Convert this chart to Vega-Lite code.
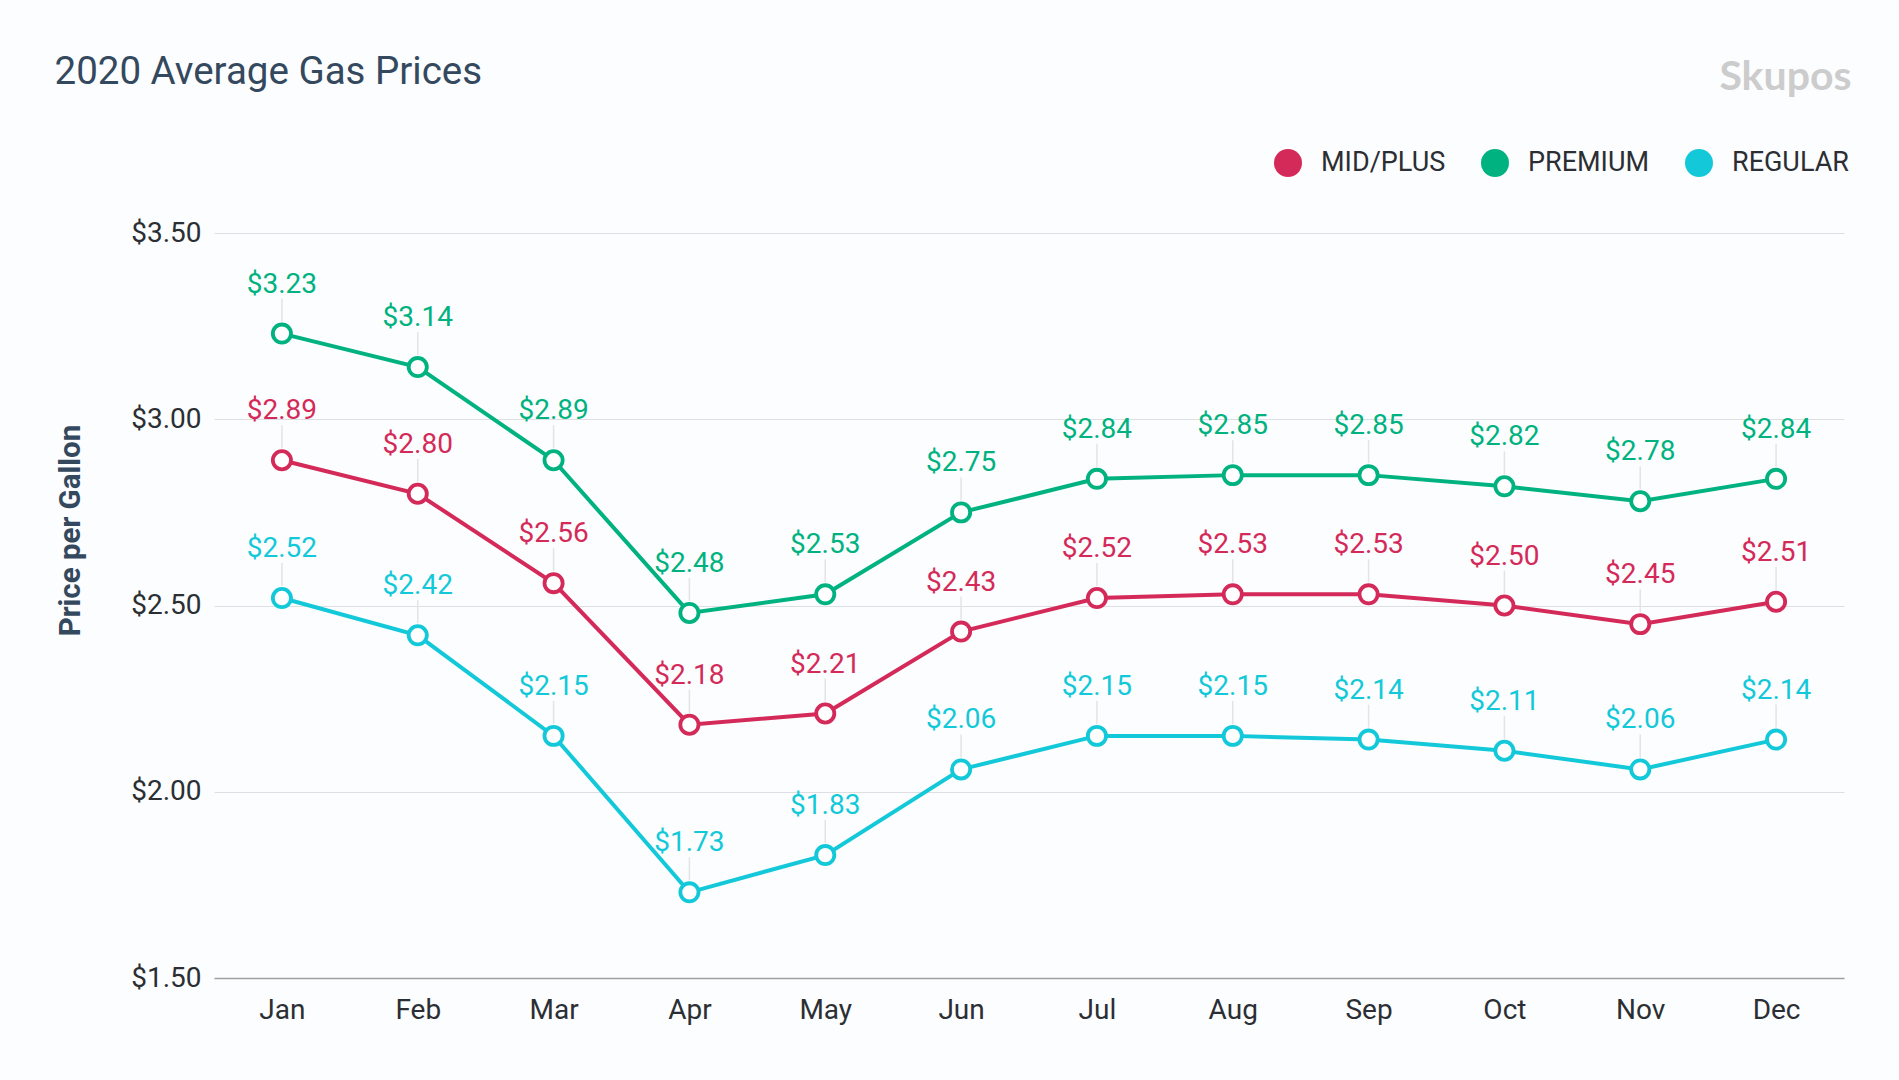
{
  "$schema": "https://vega.github.io/schema/vega-lite/v6.json",
  "width": 1630,
  "height": 745,
  "autosize": {"type": "none"},
  "padding": {"left": 214, "top": 233, "right": 55, "bottom": 102},
  "background": "#fcfdfe",
  "config": {
    "view": {"stroke": null},
    "font": "Roboto"
  },
  "data": {
    "values": [
      {"month": "Jan", "type": "MID/PLUS", "price": 2.89},
      {"month": "Feb", "type": "MID/PLUS", "price": 2.80},
      {"month": "Mar", "type": "MID/PLUS", "price": 2.56},
      {"month": "Apr", "type": "MID/PLUS", "price": 2.18},
      {"month": "May", "type": "MID/PLUS", "price": 2.21},
      {"month": "Jun", "type": "MID/PLUS", "price": 2.43},
      {"month": "Jul", "type": "MID/PLUS", "price": 2.52},
      {"month": "Aug", "type": "MID/PLUS", "price": 2.53},
      {"month": "Sep", "type": "MID/PLUS", "price": 2.53},
      {"month": "Oct", "type": "MID/PLUS", "price": 2.50},
      {"month": "Nov", "type": "MID/PLUS", "price": 2.45},
      {"month": "Dec", "type": "MID/PLUS", "price": 2.51},
      {"month": "Jan", "type": "PREMIUM", "price": 3.23},
      {"month": "Feb", "type": "PREMIUM", "price": 3.14},
      {"month": "Mar", "type": "PREMIUM", "price": 2.89},
      {"month": "Apr", "type": "PREMIUM", "price": 2.48},
      {"month": "May", "type": "PREMIUM", "price": 2.53},
      {"month": "Jun", "type": "PREMIUM", "price": 2.75},
      {"month": "Jul", "type": "PREMIUM", "price": 2.84},
      {"month": "Aug", "type": "PREMIUM", "price": 2.85},
      {"month": "Sep", "type": "PREMIUM", "price": 2.85},
      {"month": "Oct", "type": "PREMIUM", "price": 2.82},
      {"month": "Nov", "type": "PREMIUM", "price": 2.78},
      {"month": "Dec", "type": "PREMIUM", "price": 2.84},
      {"month": "Jan", "type": "REGULAR", "price": 2.52},
      {"month": "Feb", "type": "REGULAR", "price": 2.42},
      {"month": "Mar", "type": "REGULAR", "price": 2.15},
      {"month": "Apr", "type": "REGULAR", "price": 1.73},
      {"month": "May", "type": "REGULAR", "price": 1.83},
      {"month": "Jun", "type": "REGULAR", "price": 2.06},
      {"month": "Jul", "type": "REGULAR", "price": 2.15},
      {"month": "Aug", "type": "REGULAR", "price": 2.15},
      {"month": "Sep", "type": "REGULAR", "price": 2.14},
      {"month": "Oct", "type": "REGULAR", "price": 2.11},
      {"month": "Nov", "type": "REGULAR", "price": 2.06},
      {"month": "Dec", "type": "REGULAR", "price": 2.14}
    ]
  },
  "layer": [
    {
      "mark": {"type": "rule", "color": "#e4e4e6", "strokeWidth": 1.5, "yOffset": -12, "y2Offset": -35},
      "encoding": {
        "x": {"field": "month", "type": "ordinal", "sort": ["Jan","Feb","Mar","Apr","May","Jun","Jul","Aug","Sep","Oct","Nov","Dec"], "scale": {"type": "point", "padding": 0.5}, "axis": null},
        "y": {"field": "price", "type": "quantitative", "scale": {"domain": [1.5, 3.5], "zero": false, "nice": false},
          "axis": {"orient": "right", "labels": false, "ticks": false, "domain": false, "grid": false,
            "title": "Skupos", "titleAngle": 0, "titleAlign": "right", "titleBaseline": "alphabetic",
            "titleX": 7, "titleY": -144, "titleFont": "Lato", "titleFontWeight": "bold", "titleFontSize": 41, "titleColor": "#cccccc"}},
        "y2": {"field": "price"}
      }
    },
    {
      "mark": {"type": "line", "strokeWidth": 4},
      "encoding": {
        "x": {"field": "month", "type": "ordinal", "sort": ["Jan","Feb","Mar","Apr","May","Jun","Jul","Aug","Sep","Oct","Nov","Dec"],
          "axis": {"orient": "bottom", "title": null, "labelAngle": 0, "labelFontSize": 28, "labelColor": "#2b2f33", "labelPadding": 18,
            "ticks": false, "grid": false, "domain": true, "domainColor": "#a0a0a0", "domainWidth": 1.5}},
        "y": {"field": "price", "type": "quantitative",
          "axis": {"orient": "left", "values": [1.5, 2, 2.5, 3, 3.5], "format": "$.2f", "labelFontSize": 28, "labelColor": "#2b2f33", "labelPadding": 13,
            "ticks": false, "domain": false, "grid": true, "gridColor": "#dedfe2", "gridWidth": 1.2,
            "title": "Price per Gallon", "titleFontSize": 29.5, "titleFontWeight": "bold", "titleColor": "#34495e",
            "titleX": -129, "titleY": 297, "titleAlign": "center"}},
        "color": {"field": "type", "type": "nominal",
          "scale": {"domain": ["MID/PLUS", "PREMIUM", "REGULAR"], "range": ["#d42a5a", "#00b280", "#13c9d9"]},
          "legend": {"orient": "none", "legendX": 1060, "legendY": -84, "direction": "horizontal", "title": null,
            "symbolType": "circle", "symbolSize": 784, "symbolStrokeWidth": 0, "symbolOpacity": 1,
            "labelFont": "Roboto", "labelFontSize": 27, "labelColor": "#2b2f33", "labelOffset": 19, "columnPadding": 35, "padding": 0,
            "encode": {"symbols": {"update": {"fill": {"scale": "color", "field": "value"}, "stroke": {"value": "transparent"}, "opacity": {"value": 1}}}}}}
      }
    },
    {
      "mark": {"type": "point", "filled": false, "fill": "#ffffff", "fillOpacity": 1, "opacity": 1, "size": 330, "strokeWidth": 3.8, "shape": "circle"},
      "encoding": {
        "x": {"field": "month", "type": "ordinal", "sort": ["Jan","Feb","Mar","Apr","May","Jun","Jul","Aug","Sep","Oct","Nov","Dec"], "axis": null},
        "y": {"field": "price", "type": "quantitative", "axis": null},
        "color": {"field": "type", "type": "nominal"}
      }
    },
    {
      "mark": {"type": "text", "dy": -41, "baseline": "alphabetic", "fontSize": 28, "font": "Roboto"},
      "encoding": {
        "x": {"field": "month", "type": "ordinal", "sort": ["Jan","Feb","Mar","Apr","May","Jun","Jul","Aug","Sep","Oct","Nov","Dec"],
          "axis": {"orient": "top", "labels": false, "ticks": false, "domain": false, "grid": false,
            "title": "2020 Average Gas Prices", "titleAngle": 0, "titleAlign": "left", "titleBaseline": "alphabetic",
            "titleX": -160, "titleY": -150, "titleFont": "Roboto", "titleFontWeight": "normal", "titleFontSize": 38.5, "titleColor": "#34495e"}},
        "y": {"field": "price", "type": "quantitative", "axis": null},
        "text": {"field": "price", "type": "quantitative", "format": "$.2f"},
        "color": {"field": "type", "type": "nominal"}
      }
    }
  ]
}
